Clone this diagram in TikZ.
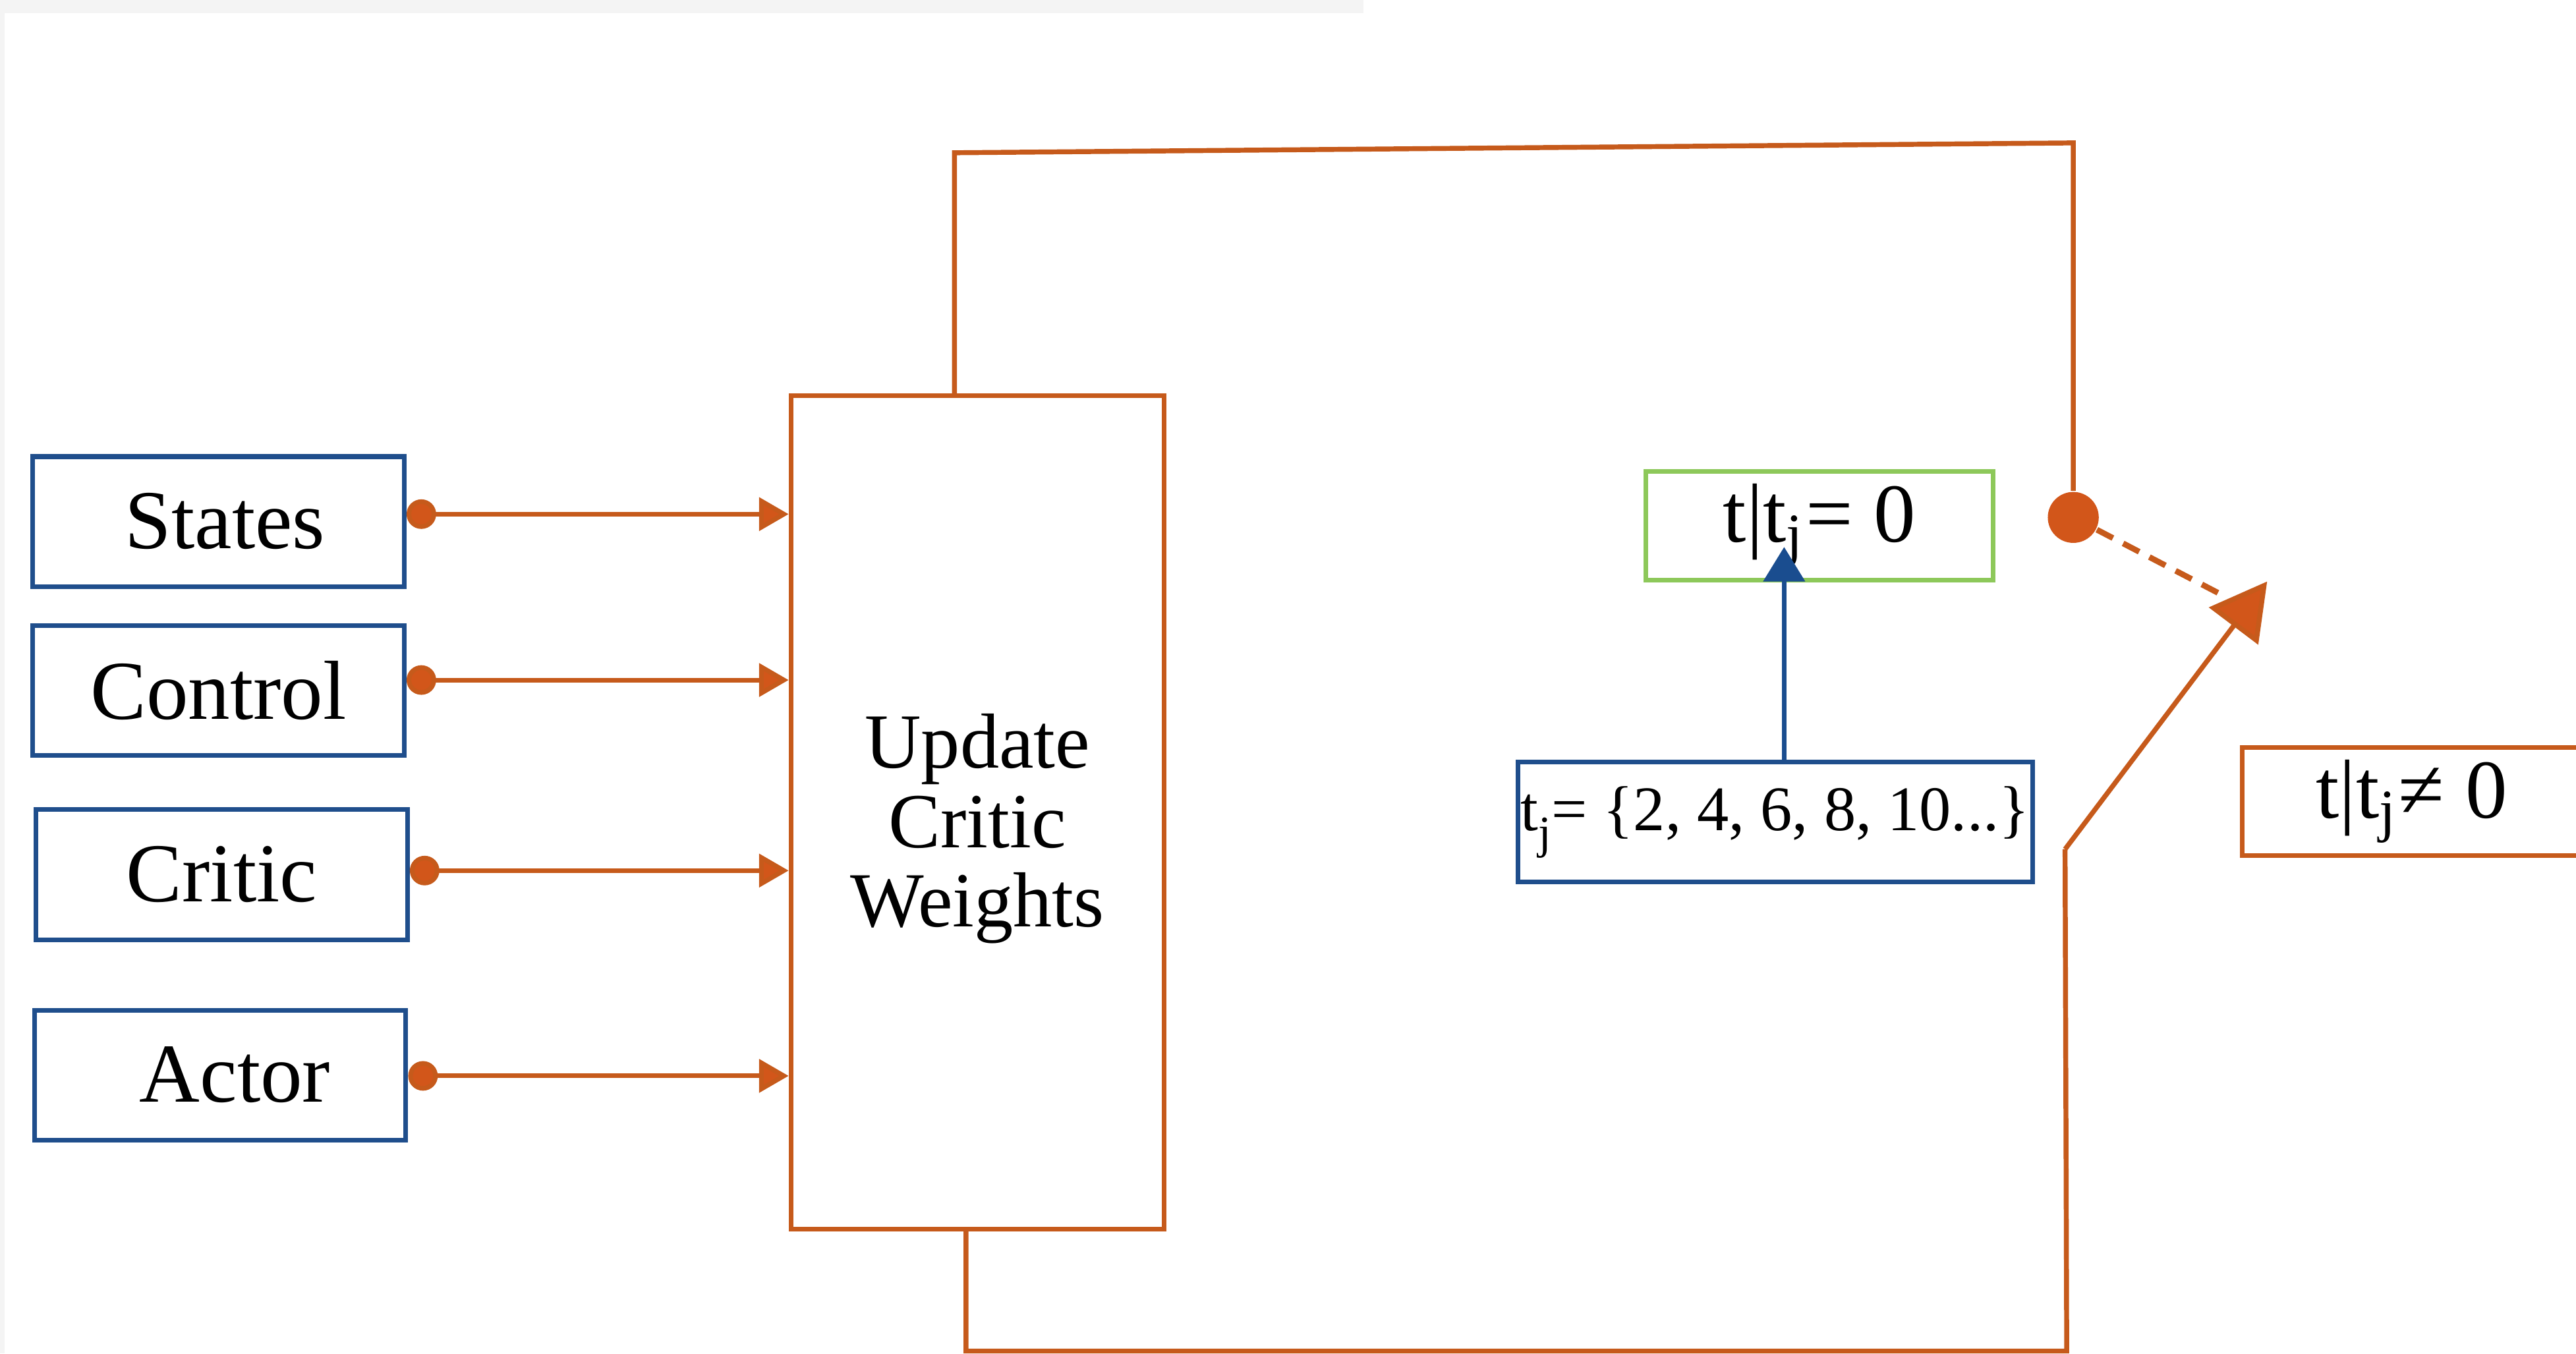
\documentclass[tikz,border=0pt]{standalone}
\usepackage{fontspec}
\setmainfont{Liberation Serif}
\usetikzlibrary{arrows.meta}
\definecolor{orng}{HTML}{C65A1B}
\definecolor{orngfill}{HTML}{D2561A}
\definecolor{bluebox}{HTML}{1F4E8C}
\definecolor{bluearrow}{HTML}{1A4D8F}
\definecolor{greenbox}{HTML}{8DC85A}
\definecolor{bandgray}{HTML}{F4F4F4}
\begin{document}
\begin{tikzpicture}[x=0.01cm,y=-0.01cm,
  inbox/.style={draw=bluebox, line width=0.8pt, minimum width=2.26cm, minimum height=0.79cm, inner sep=0pt, font=\fontsize{14.5}{16}\selectfont},
  updbox/.style={draw=orng, line width=0.8pt, minimum width=2.27cm, minimum height=5.07cm, inner sep=0pt, align=center, font=\fontsize{13.5}{13.7}\selectfont},
  condbox/.style={line width=0.8pt, minimum height=0.66cm, inner sep=0pt, font=\fontsize{14.5}{16}\selectfont},
  inarr/.style={color=orng, line width=0.8pt, {Circle[length=0.18cm,fill=orngfill]}-{Triangle[length=0.18cm,width=0.2cm,fill=orngfill]}},
  loopline/.style={color=orng, line width=0.85pt, line join=miter},
  dashline/.style={color=orng, line width=1pt, dash pattern=on 0.11cm off 0.07cm},
  bigarr/.style={color=orng, line width=0.85pt, -{Triangle[length=0.34cm,width=0.37cm,fill=orngfill]}},
  bluearr/.style={color=bluearrow, line width=0.8pt, -{Triangle[length=0.21cm,width=0.25cm,fill=bluearrow]}}
]
\useasboundingbox (0,0) rectangle (1568,824);
\clip (0,0) rectangle (1568,824);
\fill[white] (0,0) rectangle (1568,824);
\fill[bandgray] (0,0) rectangle (830,8);
\fill[bandgray] (0,8) rectangle (3,824);

% input boxes
\node[inbox] (states) at (133,317.5) {\hspace{0.08cm}States};
\node[inbox] (control) at (133,420.5) {Control};
\node[inbox] (critic) at (135,532.5) {Critic};
\node[inbox] (actor) at (134,654.5) {\hspace{0.18cm}Actor};

% update box
\node[updbox] (upd) at (595,494.5) {\parbox{2cm}{\centering\vspace*{0.2cm}Update\\Critic\\Weights}};

% input arrows
\draw[inarr] (states.east |- 0,313) -- (upd.west |- 0,313);
\draw[inarr] (control.east |- 0,414) -- (upd.west |- 0,414);
\draw[inarr] (critic.east |- 0,530) -- (upd.west |- 0,530);
\draw[inarr] (actor.east |- 0,655) -- (upd.west |- 0,655);

% condition boxes
\node[condbox, draw=greenbox, minimum width=2.11cm] (zero) at (1107.5,320) {t|t\textsubscript{j}= 0};
\node[draw=bluebox, line width=0.8pt, minimum width=3.13cm, minimum height=0.73cm, inner sep=0pt, font=\fontsize{11}{13}\selectfont] (tjset) at (1080.5,500.5) {t\raisebox{-0.6ex}{\footnotesize j}= \{2, 4, 6, 8, 10...\}};
\node[condbox, draw=orng, minimum width=2.06cm] (nonzero) at (1468,488) {t|t\textsubscript{j}≠ 0};

% blue arrow
\coordinate (gt) at (1086,333);
\draw[bluearr] (tjset.north -| 1086,0) -- (gt);

% switch
\node[circle, fill=orngfill, minimum size=0.31cm, inner sep=0pt] (sw) at (1262,315) {};
\coordinate (dashend) at (1356,364);
\coordinate (swtip) at (1380,354);
\coordinate (swbase) at (1257,517);

% top loop
\draw[loopline] (upd.north -| 581,0) -- (581,93) -- (1262,87) -- (sw.north);
% dashed switch blade
\draw[dashline] (sw) -- (dashend);
% bottom loop with switch contact
\draw[loopline] (upd.south -| 588,0) -- (588,822.5) -- (1258,822.5) -- (swbase);
\draw[bigarr] (swbase) -- (swtip);
\end{tikzpicture}
\end{document}
